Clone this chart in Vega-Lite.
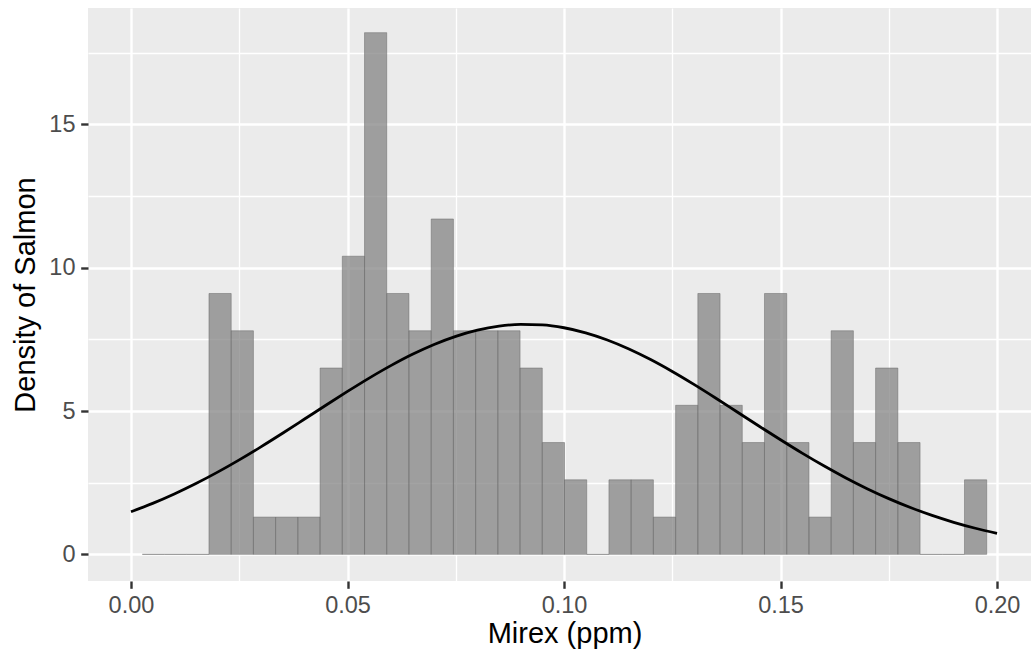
{
  "$schema": "https://vega.github.io/schema/vega-lite/v6.json",
  "width": 943,
  "height": 573,
  "autosize": {"type": "none"},
  "padding": {"left": 88, "top": 8, "right": 0, "bottom": 72},
  "background": "white",
  "config": {
    "font": "Liberation Sans",
    "view": {"fill": "#EBEBEB", "stroke": null}
  },
  "datasets": {
    "bins": [
      {"mirex": 0.00261, "mirex_end": 0.00774, "density": 0},
      {"mirex": 0.00774, "mirex_end": 0.01287, "density": 0},
      {"mirex": 0.01287, "mirex_end": 0.01801, "density": 0},
      {"mirex": 0.01801, "mirex_end": 0.02314, "density": 9.1},
      {"mirex": 0.02314, "mirex_end": 0.02827, "density": 7.8},
      {"mirex": 0.02827, "mirex_end": 0.0334, "density": 1.3},
      {"mirex": 0.0334, "mirex_end": 0.03853, "density": 1.3},
      {"mirex": 0.03853, "mirex_end": 0.04367, "density": 1.3},
      {"mirex": 0.04367, "mirex_end": 0.0488, "density": 6.5},
      {"mirex": 0.0488, "mirex_end": 0.05393, "density": 10.4},
      {"mirex": 0.05393, "mirex_end": 0.05906, "density": 18.2},
      {"mirex": 0.05906, "mirex_end": 0.06419, "density": 9.1},
      {"mirex": 0.06419, "mirex_end": 0.06933, "density": 7.8},
      {"mirex": 0.06933, "mirex_end": 0.07446, "density": 11.7},
      {"mirex": 0.07446, "mirex_end": 0.07959, "density": 7.8},
      {"mirex": 0.07959, "mirex_end": 0.08472, "density": 7.8},
      {"mirex": 0.08472, "mirex_end": 0.08985, "density": 7.8},
      {"mirex": 0.08985, "mirex_end": 0.09498, "density": 6.5},
      {"mirex": 0.09498, "mirex_end": 0.10012, "density": 3.9},
      {"mirex": 0.10012, "mirex_end": 0.10525, "density": 2.6},
      {"mirex": 0.10525, "mirex_end": 0.11038, "density": 0},
      {"mirex": 0.11038, "mirex_end": 0.11551, "density": 2.6},
      {"mirex": 0.11551, "mirex_end": 0.12064, "density": 2.6},
      {"mirex": 0.12064, "mirex_end": 0.12578, "density": 1.3},
      {"mirex": 0.12578, "mirex_end": 0.13091, "density": 5.2},
      {"mirex": 0.13091, "mirex_end": 0.13604, "density": 9.1},
      {"mirex": 0.13604, "mirex_end": 0.14117, "density": 5.2},
      {"mirex": 0.14117, "mirex_end": 0.1463, "density": 3.9},
      {"mirex": 0.1463, "mirex_end": 0.15144, "density": 9.1},
      {"mirex": 0.15144, "mirex_end": 0.15657, "density": 3.9},
      {"mirex": 0.15657, "mirex_end": 0.1617, "density": 1.3},
      {"mirex": 0.1617, "mirex_end": 0.16683, "density": 7.8},
      {"mirex": 0.16683, "mirex_end": 0.17196, "density": 3.9},
      {"mirex": 0.17196, "mirex_end": 0.1771, "density": 6.5},
      {"mirex": 0.1771, "mirex_end": 0.18223, "density": 3.9},
      {"mirex": 0.18223, "mirex_end": 0.18736, "density": 0},
      {"mirex": 0.18736, "mirex_end": 0.19249, "density": 0},
      {"mirex": 0.19249, "mirex_end": 0.19762, "density": 2.6}
    ],
    "curve": [
      {"mirex": 0.000, "density": 1.485},
      {"mirex": 0.005, "density": 1.777},
      {"mirex": 0.010, "density": 2.106},
      {"mirex": 0.015, "density": 2.470},
      {"mirex": 0.020, "density": 2.868},
      {"mirex": 0.025, "density": 3.297},
      {"mirex": 0.030, "density": 3.751},
      {"mirex": 0.035, "density": 4.225},
      {"mirex": 0.040, "density": 4.712},
      {"mirex": 0.045, "density": 5.202},
      {"mirex": 0.050, "density": 5.683},
      {"mirex": 0.055, "density": 6.148},
      {"mirex": 0.060, "density": 6.583},
      {"mirex": 0.065, "density": 6.979},
      {"mirex": 0.070, "density": 7.323},
      {"mirex": 0.075, "density": 7.606},
      {"mirex": 0.080, "density": 7.822},
      {"mirex": 0.085, "density": 7.963},
      {"mirex": 0.090, "density": 8.024},
      {"mirex": 0.095, "density": 8.005},
      {"mirex": 0.100, "density": 7.905},
      {"mirex": 0.105, "density": 7.728},
      {"mirex": 0.110, "density": 7.479},
      {"mirex": 0.115, "density": 7.164},
      {"mirex": 0.120, "density": 6.794},
      {"mirex": 0.125, "density": 6.378},
      {"mirex": 0.130, "density": 5.928},
      {"mirex": 0.135, "density": 5.454},
      {"mirex": 0.140, "density": 4.966},
      {"mirex": 0.145, "density": 4.477},
      {"mirex": 0.150, "density": 3.996},
      {"mirex": 0.155, "density": 3.530},
      {"mirex": 0.160, "density": 3.088},
      {"mirex": 0.165, "density": 2.673},
      {"mirex": 0.170, "density": 2.291},
      {"mirex": 0.175, "density": 1.944},
      {"mirex": 0.180, "density": 1.633},
      {"mirex": 0.185, "density": 1.357},
      {"mirex": 0.190, "density": 1.117},
      {"mirex": 0.195, "density": 0.910},
      {"mirex": 0.200, "density": 0.734}
    ]
  },
  "encoding": {
    "x": {
      "field": "mirex",
      "type": "quantitative",
      "scale": {"domain": [-0.00993, 0.20785], "nice": false, "zero": false},
      "axis": {
        "title": "Mirex (ppm)",
        "values": [0, 0.025, 0.05, 0.075, 0.1, 0.125, 0.15, 0.175, 0.2],
        "labelExpr": "round(datum.value*1000) % 50 == 0 ? format(datum.value, '.2f') : ''",
        "domain": false,
        "grid": true,
        "gridColor": "white",
        "gridWidth": {"condition": {"test": "round(datum.value*1000) % 50 != 0", "value": 1.3}, "value": 2.4},
        "tickOpacity": {"condition": {"test": "round(datum.value*1000) % 50 != 0", "value": 0}, "value": 1},
        "tickColor": "#333333",
        "tickWidth": 2.4,
        "tickSize": 7.3,
        "labelFont": "Liberation Sans",
        "labelFontSize": 23.5,
        "labelColor": "#4D4D4D",
        "labelBaseline": "top",
        "labelPadding": 5,
        "labelFlush": false,
        "labelOverlap": false,
        "titleFont": "Liberation Sans",
        "titleFontSize": 29,
        "titleFontWeight": "normal",
        "titleColor": "black",
        "titleX": 476.5,
        "titleY": 61,
        "titleAlign": "center",
        "titleBaseline": "alphabetic"
      }
    },
    "y": {
      "field": "density",
      "type": "quantitative",
      "scale": {"domain": [-0.93, 19.06], "nice": false, "zero": false},
      "axis": {
        "title": "Density of Salmon",
        "values": [0, 2.5, 5, 7.5, 10, 12.5, 15, 17.5],
        "labelExpr": "datum.value % 5 == 0 ? format(datum.value, 'd') : ''",
        "domain": false,
        "grid": true,
        "gridColor": "white",
        "gridWidth": {"condition": {"test": "datum.value % 5 != 0", "value": 1.3}, "value": 2.4},
        "tickOpacity": {"condition": {"test": "datum.value % 5 != 0", "value": 0}, "value": 1},
        "tickColor": "#333333",
        "tickWidth": 2.4,
        "tickSize": 7.3,
        "labelFont": "Liberation Sans",
        "labelFontSize": 23.5,
        "labelColor": "#4D4D4D",
        "labelBaseline": "middle",
        "labelPadding": 5.7,
        "labelFlush": false,
        "labelOverlap": false,
        "titleFont": "Liberation Sans",
        "titleFontSize": 29,
        "titleFontWeight": "normal",
        "titleColor": "black",
        "titleAngle": -90,
        "titleX": -54,
        "titleY": 286.5,
        "titleAlign": "center",
        "titleBaseline": "alphabetic"
      }
    }
  },
  "layer": [
    {
      "data": {"name": "bins"},
      "mark": {"type": "rect", "fill": "#808080", "fillOpacity": 0.72, "stroke": "#666666", "strokeOpacity": 0.6, "strokeWidth": 0.8},
      "encoding": {
        "x2": {"field": "mirex_end"},
        "y2": {"datum": 0}
      }
    },
    {
      "data": {"name": "curve"},
      "mark": {"type": "line", "color": "black", "strokeWidth": 2.8, "interpolate": "monotone"},
      "encoding": {}
    }
  ]
}
